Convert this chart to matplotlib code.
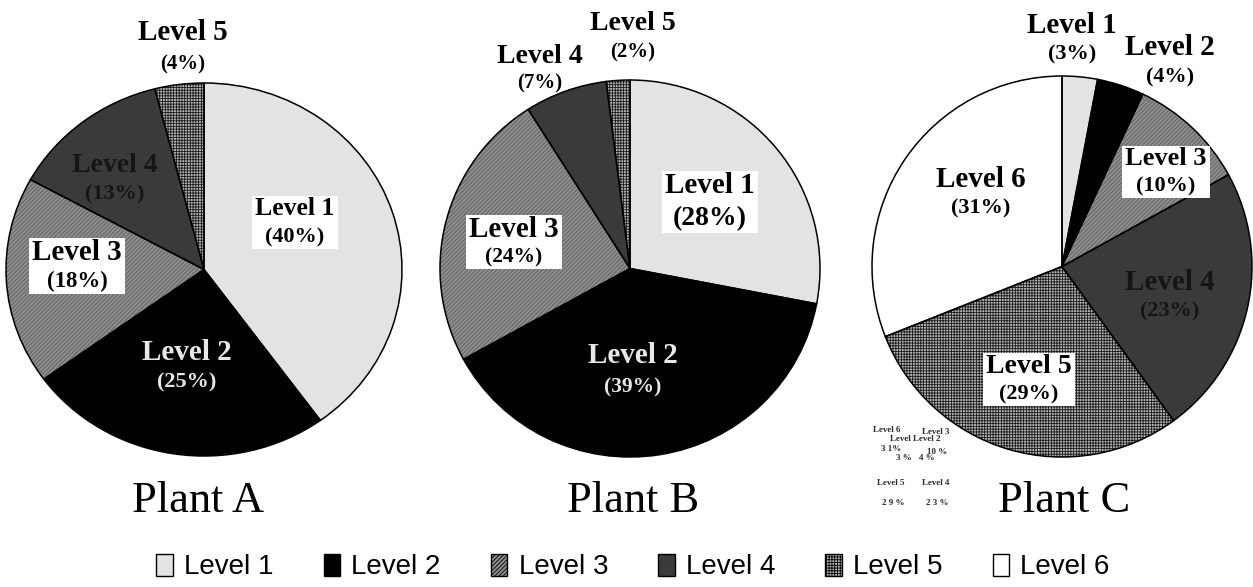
import matplotlib
matplotlib.use("Agg")
import matplotlib.pyplot as plt
from matplotlib.patches import Patch, Rectangle
from matplotlib.transforms import Bbox

# ---- data -------------------------------------------------------------
levels = ["Level 1", "Level 2", "Level 3", "Level 4", "Level 5", "Level 6"]
plant_names = ["Plant A", "Plant B", "Plant C"]
plant_a = [40, 25, 18, 13, 4]
plant_b = [28, 39, 24, 7, 2]
plant_c = [3, 4, 10, 23, 29, 31]
plant_values = [plant_a, plant_b, plant_c]

# ---- styles per level -------------------------------------------------
face = ["#e3e3e3", "#000000", "#8e8e8e", "#3a3a3a", "#b4b4b4", "#ffffff"]
hatch_col = ["#e3e3e3", "#000000", "#5c5c5c", "#3a3a3a", "#1a1a1a", "#ffffff"]
hatches = [None, None, "////////", None, "++++++", None]

W, H, DPI = 1253, 587, 100
plt.rcParams["hatch.linewidth"] = 0.6
SERIF = ["Liberation Serif", "DejaVu Serif"]

fig = plt.figure(figsize=(W / DPI, H / DPI), dpi=DPI)
fig.patch.set_facecolor("white")

# pie geometry in pixels: centre x, centre y (from top), radius x, radius y
geoms = [(204, 269.5, 198, 186.5), (630, 268.5, 190, 188.5), (1062, 266.5, 190, 190.5)]


def make_axes(g):
    cx, cy, rx, ry = g
    ax = fig.add_axes([(cx - rx) / W, (H - cy - ry) / H, 2 * rx / W, 2 * ry / H])
    return ax


axes = []
for vals, g in zip(plant_values, geoms):
    ax = make_axes(g)
    n = len(vals)
    wedges, _ = ax.pie(vals, startangle=90, counterclock=False, radius=1,
                       colors=face[:n], wedgeprops=dict(linewidth=0))
    for i, w in enumerate(wedges):
        w.set_edgecolor(hatch_col[i])
        if hatches[i]:
            w.set_hatch(hatches[i])
    # outlines of the slices
    ax.pie(vals, startangle=90, counterclock=False, radius=1,
           colors=["none"] * n,
           wedgeprops=dict(linewidth=1.1, edgecolor="black", facecolor="none"))
    ax.set_xlim(-1, 1)
    ax.set_ylim(-1, 1)
    ax.set_aspect("auto")
    ax.axis("off")
    axes.append(ax)


def to_data(g, px, py):
    cx, cy, rx, ry = g
    return (px - cx) / rx, (cy - py) / ry


# slice labels: (plant, level idx, x, name baseline, pct baseline, name size, pct size, color, boxed)
labels = [
    (0, 4, 183, 40, 69, 21, 15, "black", False),
    (0, 3, 115, 172, 199, 20, 16, "#151515", False),
    (0, 0, 295, 215, 242, 18.5, 16, "black", True),
    (0, 2, 77, 260, 287, 21, 16.5, "black", True),
    (0, 1, 187, 360, 387, 21, 16, "#e8e8e8", False),
    (1, 4, 633, 30, 57, 20, 15, "black", False),
    (1, 3, 540, 63, 88, 20, 15, "black", False),
    (1, 0, 710, 193, 225, 21, 20, "black", True),
    (1, 2, 514, 237, 262, 21, 15.5, "black", True),
    (1, 1, 633, 363, 392, 21, 15.5, "#e8e8e8", False),
    (2, 0, 1072, 33, 59, 21, 16, "black", False),
    (2, 1, 1170, 55, 82, 21, 16, "black", False),
    (2, 2, 1166, 165, 191, 19, 16, "black", True),
    (2, 5, 981, 187, 213, 21, 16, "black", False),
    (2, 3, 1170, 290, 316, 21, 16, "#151515", False),
    (2, 4, 1029, 373, 399, 20, 16, "black", True),
]

boxed_groups = []
for p, li, px, yb1, yb2, s1, s2, col, boxed in labels:
    ax = axes[p]
    g = geoms[p]
    pct = plant_values[p][li]
    x1, y1 = to_data(g, px, yb1)
    x2, y2 = to_data(g, px, yb2)
    t1 = ax.text(x1, y1, levels[li], ha="center", va="baseline", fontsize=s1,
                 fontweight="bold", family=SERIF, color=col, zorder=5)
    t2 = ax.text(x2, y2, f"({pct}%)", ha="center", va="baseline", fontsize=s2,
                 fontweight="bold", family=SERIF, color=col, zorder=5)
    if boxed:
        boxed_groups.append((ax, t1, t2))

# plant titles
title_pos = [(198, 512), (633, 512), (1064, 512)]
for name, (tx, ty) in zip(plant_names, title_pos):
    fig.text(tx / W, (H - ty) / H, name, ha="center", va="baseline",
             fontsize=32, family=SERIF, color="black")

# small stray data labels near Plant C
stray = [("Level 6", 887, 430), ("Level 3", 936, 432), ("Level Level 2", 915, 439),
         ("3 1%", 891, 449), ("10 %", 937, 452), ("3 %", 904, 458), ("4 %", 927, 458),
         ("Level 5", 891, 483), ("Level 4", 936, 483), ("2 9 %", 893, 503), ("2 3 %", 937, 503)]
for s, sx, sy in stray:
    fig.text(sx / W, (H - sy) / H, s, ha="center", va="center", fontsize=6.5,
             fontweight="bold", family=SERIF, color="#2a2a2a")

# legend
handles = []
for i, lv in enumerate(levels):
    handles.append(Patch(facecolor=face[i], edgecolor="black", hatch=hatches[i],
                         linewidth=1.0, label=lv))
leg = fig.legend(handles=handles, loc="center", bbox_to_anchor=(633 / W, (H - 567) / H),
                 ncol=6, frameon=False, handlelength=0.6, handleheight=0.85,
                 handletextpad=0.4, columnspacing=1.8,
                 prop={"family": ["Liberation Sans", "DejaVu Sans"], "size": 20})

# white boxes behind the boxed labels
fig.canvas.draw()
renderer = fig.canvas.get_renderer()
for ax, t1, t2 in boxed_groups:
    b = Bbox.union([t1.get_window_extent(renderer), t2.get_window_extent(renderer)])
    x0, y0, x1, y1 = b.x0 - 3, b.y0 - 2, b.x1 + 3, b.y1 + 1
    (dx0, dy0) = ax.transData.inverted().transform((x0, y0))
    (dx1, dy1) = ax.transData.inverted().transform((x1, y1))
    ax.add_patch(Rectangle((dx0, dy0), dx1 - dx0, dy1 - dy0, facecolor="white",
                           edgecolor="none", zorder=4, clip_on=False))

fig.savefig("out.png", dpi=DPI, facecolor="white")
